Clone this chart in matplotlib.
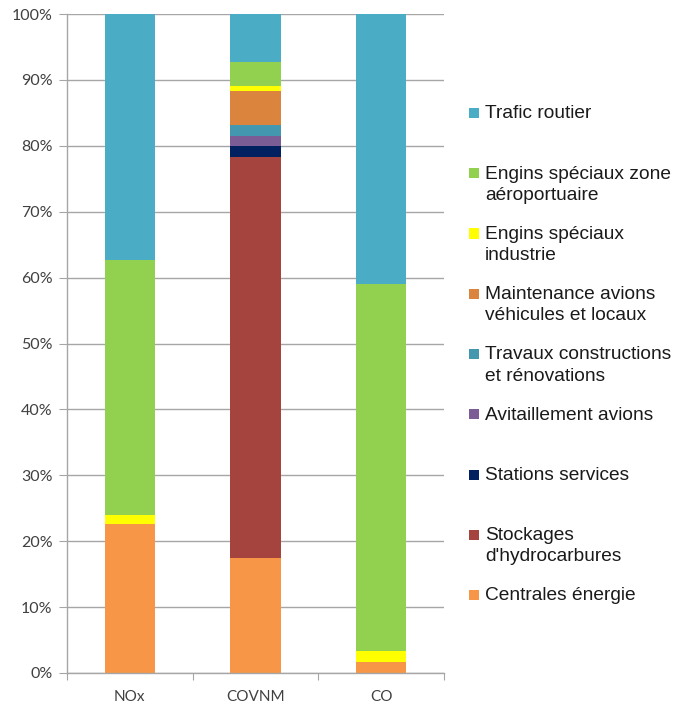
import matplotlib
matplotlib.use("Agg")
import matplotlib.pyplot as plt
from matplotlib.patches import Rectangle
import numpy as np

categories = ["NOx", "COVNM", "CO"]
series_names = [
    "Centrales énergie",
    "Stockages\nd'hydrocarbures",
    "Stations services",
    "Avitaillement avions",
    "Travaux constructions\net rénovations",
    "Maintenance avions\nvéhicules et locaux",
    "Engins spéciaux\nindustrie",
    "Engins spéciaux zone\naéroportuaire",
    "Trafic routier",
]
colors = ["#F79646", "#A5443F", "#002060", "#7B5C94", "#4397AF",
          "#DB843D", "#FFFF00", "#92D050", "#4BACC6"]
values = {
    "Centrales énergie":              [22.6, 17.5, 1.7],
    "Stockages\nd'hydrocarbures":     [0.0, 60.8, 0.0],
    "Stations services":              [0.0, 1.7, 0.0],
    "Avitaillement avions":           [0.0, 1.5, 0.0],
    "Travaux constructions\net rénovations": [0.0, 1.7, 0.0],
    "Maintenance avions\nvéhicules et locaux": [0.0, 5.1, 0.0],
    "Engins spéciaux\nindustrie":     [1.4, 0.8, 1.7],
    "Engins spéciaux zone\naéroportuaire": [38.7, 3.6, 55.6],
    "Trafic routier":                 [37.3, 7.3, 41.0],
}
yticks = [0, 10, 20, 30, 40, 50, 60, 70, 80, 90, 100]
ytick_labels = [f"{v}%" for v in yticks]

W, H = 677, 706
fig = plt.figure(figsize=(W / 100, H / 100), dpi=100)
ax = fig.add_axes([67 / W, 1 - 673 / H, (444 - 67) / W, (673 - 14) / H])

x = np.arange(len(categories))
bottom = np.zeros(len(categories))
for name, col in zip(series_names, colors):
    v = np.array(values[name])
    ax.bar(x, v, width=0.4, bottom=bottom, color=col, zorder=2, linewidth=0)
    bottom += v

ax.set_xlim(-0.5, 2.5)
ax.set_ylim(0, 100)
ax.set_yticks(yticks)
ax.set_yticklabels(ytick_labels, fontfamily="Lato", fontsize=11.5, color="#404040")
ax.yaxis.grid(True, color="#A6A6A6", linewidth=1, zorder=0)
ax.set_axisbelow(True)
ax.tick_params(axis="y", length=6, color="#A6A6A6", pad=4.5)
ax.set_xticks([-0.5, 0.5, 1.5, 2.5])
ax.set_xticklabels([])
ax.set_xticks(x, minor=True)
ax.set_xticklabels(categories, minor=True, fontfamily="Lato", fontsize=11, color="#404040")
ax.tick_params(axis="x", which="major", length=5, color="#A6A6A6")
ax.tick_params(axis="x", which="minor", length=0, pad=12)
for s in ["top", "right"]:
    ax.spines[s].set_visible(False)
for s in ["left", "bottom"]:
    ax.spines[s].set_color("#A6A6A6")
    ax.spines[s].set_linewidth(1)

# legend (reverse order, top to bottom)
for i, (name, col) in enumerate(zip(series_names[::-1], colors[::-1])):
    yc = 113 + i * 60.25
    fig.patches.append(Rectangle((469 / W, 1 - (yc + 5) / H), 10 / W, 10 / H,
                                 transform=fig.transFigure, facecolor=col,
                                 edgecolor="none"))
    fig.text(485 / W, 1 - (yc - 7.5) / H, name, fontfamily="Liberation Sans",
             fontsize=13.8, color="#1a1a1a", va="top", ha="left",
             linespacing=1.32)

fig.savefig("out.png", dpi=100)
